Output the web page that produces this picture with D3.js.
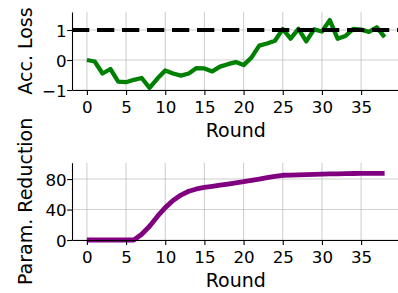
<!DOCTYPE html>
<html>
<head>
<meta charset="utf-8">
<script src="https://cdn.jsdelivr.net/npm/d3@7"></script>
<style>
  body { margin: 0; background: #fff; }
  svg { display: block; font-family: "DejaVu Sans", sans-serif; }
</style>
</head>
<body>
<svg width="398" height="293"></svg>
<script>
// rounds 0..38
var rounds = d3.range(0, 39);

var accLoss = [0.0, -0.05, -0.45, -0.3, -0.72, -0.74, -0.66, -0.6, -0.93, -0.62,
               -0.35, -0.45, -0.52, -0.45, -0.27, -0.28, -0.38, -0.22, -0.14, -0.07,
               -0.17, 0.08, 0.48, 0.55, 0.64, 1.03, 0.71, 1.04, 0.62, 1.02,
               0.95, 1.33, 0.71, 0.8, 1.04, 1.01, 0.94, 1.09, 0.76];

var paramRed = [0, 0, 0, 0, 0, 0, 0, 7.5, 18, 31,
                42.5, 52, 59, 64, 67, 69, 70.5, 72, 73.5, 75,
                76.5, 78.3, 80, 81.8, 83.5, 85, 85.3, 85.6, 85.9, 86.2,
                86.5, 86.7, 86.9, 87.1, 87.3, 87.4, 87.5, 87.6, 87.6];

var xTicks = [0, 5, 10, 15, 20, 25, 30, 35];
var accTicks = [-1, 0, 1];
var paramTicks = [0, 40, 80];

var svg = d3.select('svg');

var xScale = d3.scaleLinear().domain([-1.9, 39.9]).range([72, 399.5]);

function minus(d) { return d < 0 ? "\u2212" + Math.abs(d) : String(d); }

function panel(opts) {
    var y = opts.y;
    var g = svg.append("g");

    // grid
    g.append("g").selectAll("line").data(xTicks).enter().append("line")
        .attr("x1", function(d) { return xScale(d); })
        .attr("x2", function(d) { return xScale(d); })
        .attr("y1", y.range()[0]).attr("y2", y.range()[1])
        .attr("stroke", "#b0b0b0").attr("stroke-opacity", 0.6).attr("stroke-width", 1.1);
    g.append("g").selectAll("line").data(opts.yTicks).enter().append("line")
        .attr("x1", xScale.range()[0]).attr("x2", xScale.range()[1])
        .attr("y1", function(d) { return y(d); })
        .attr("y2", function(d) { return y(d); })
        .attr("stroke", "#b0b0b0").attr("stroke-opacity", 0.6).attr("stroke-width", 1.1);

    // series
    var line = d3.line()
        .x(function(d, i) { return xScale(rounds[i]); })
        .y(function(d) { return y(d); });
    g.append("path")
        .datum(opts.values)
        .attr("d", line)
        .attr("fill", "none")
        .attr("stroke", opts.color)
        .attr("stroke-width", opts.width)
        .attr("stroke-linejoin", "round");

    if (opts.ref !== undefined) {
        g.append("line")
            .attr("x1", xScale.range()[0]).attr("x2", xScale.range()[1])
            .attr("y1", y(opts.ref)).attr("y2", y(opts.ref))
            .attr("stroke", "#000").attr("stroke-width", 4.2)
            .attr("stroke-dasharray", "17.3,7.7");
    }

    // axes
    var xAxis = d3.axisBottom(xScale).tickValues(xTicks).tickSize(4.9).tickPadding(6.5).tickSizeOuter(0);
    var gx = g.append("g")
        .attr("transform", "translate(0," + y.range()[0] + ")")
        .call(xAxis);

    var yAxis = d3.axisLeft(y).tickValues(opts.yTicks).tickSize(4.9).tickPadding(0.4)
        .tickSizeOuter(0).tickFormat(minus);
    var gy = g.append("g")
        .attr("transform", "translate(" + xScale.range()[0] + ",0)")
        .call(yAxis);

    [gx, gy].forEach(function(a) {
        a.select(".domain").attr("stroke", "#000").attr("stroke-width", 1.1);
        a.selectAll(".tick line").attr("stroke", "#000").attr("stroke-width", 1.1);
        a.selectAll(".tick text").attr("fill", "#000")
            .style("font-size", "16.7px").style("font-family", "DejaVu Sans");
    });
    gy.selectAll(".tick text").attr("dy", "0.36em");

    g.append("text")
        .attr("text-anchor", "middle")
        .attr("x", (xScale.range()[0] + xScale.range()[1]) / 2)
        .attr("y", y.range()[0] + 46.7)
        .style("font-size", "19px")
        .text("Round");

    g.append("text")
        .attr("text-anchor", "middle")
        .attr("transform", "translate(31.7," + (y.range()[0] + y.range()[1]) / 2 + ")rotate(-90)")
        .style("font-size", "19px")
        .text(opts.label);
}

panel({
    y: d3.scaleLinear().domain([-1, 1.6]).range([90, 12]),
    yTicks: accTicks,
    values: accLoss,
    color: "green",
    width: 4.3,
    ref: 1,
    label: "Acc. Loss"
});

panel({
    y: d3.scaleLinear().domain([0, 101.5]).range([240, 162.7]),
    yTicks: paramTicks,
    values: paramRed,
    color: "purple",
    width: 4.8,
    label: "Param. Reduction"
});
</script>
</body>
</html>
